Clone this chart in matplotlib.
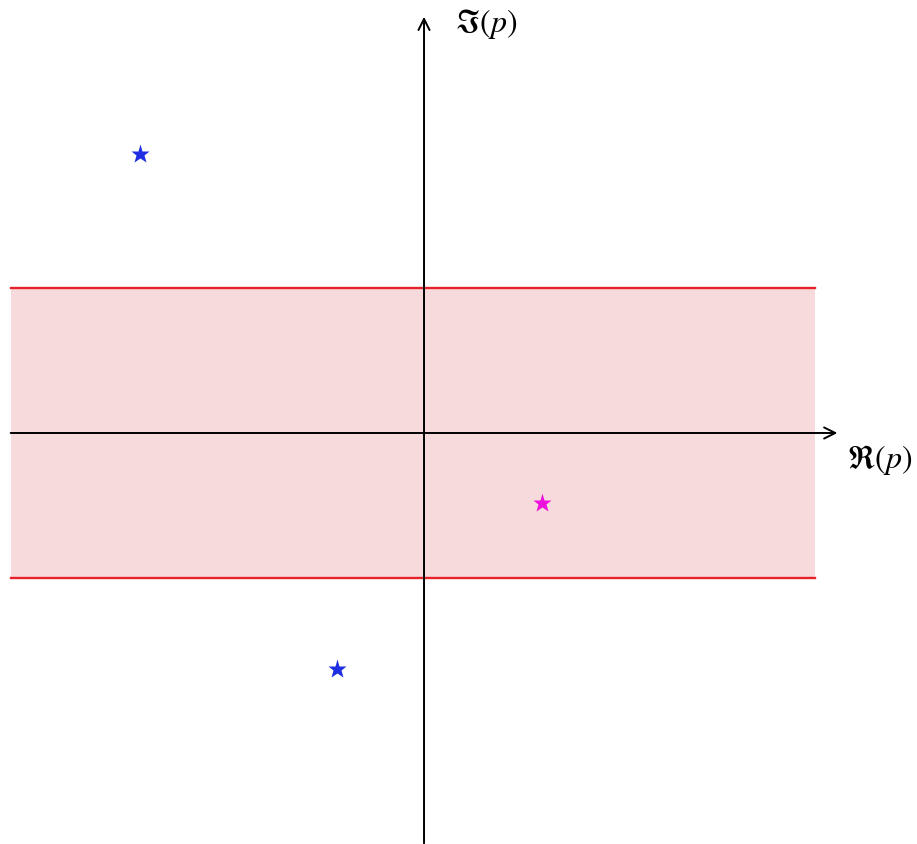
import matplotlib.pyplot as plt

plt.rcParams['mathtext.fontset'] = 'stix'

# strip bounds (imaginary part)
band_lo, band_hi = -1.0, 1.0
band_x = [-2.84, 2.69]

# poles: blue outside strip, magenta inside
blue_re = [-1.95, -0.60]
blue_im = [1.92, -1.62]
mag_re = [0.81]
mag_im = [-0.48]

fig = plt.figure(figsize=(9.17, 8.45), dpi=100)
ax = fig.add_axes([0, 0, 1, 1])
ax.set_xlim(-2.914, 3.388)
ax.set_ylim(-2.825, 2.983)
ax.axis('off')

# shaded strip with red edges
ax.fill_between(band_x, band_lo, band_hi, color='#f7dadb', lw=0, zorder=1)
ax.plot(band_x, [band_hi, band_hi], color='#e8222a', lw=1.7, zorder=2)
ax.plot(band_x, [band_lo, band_lo], color='#e8222a', lw=1.7, zorder=2)

# axes with arrows
ax.annotate('', xy=(2.86, 0), xytext=(-2.86, 0),
            arrowprops=dict(arrowstyle='->', lw=1.4, color='black', mutation_scale=20), zorder=3)
ax.annotate('', xy=(0, 2.88), xytext=(0, -2.84),
            arrowprops=dict(arrowstyle='->', lw=1.4, color='black', mutation_scale=20), zorder=3)

ax.text(2.91, -0.18, r'$\Re(p)$', fontsize=23, va='center', ha='left')
ax.text(0.21, 2.82, r'$\Im(p)$', fontsize=23, va='center', ha='left')

ax.plot(blue_re, blue_im, '*', color='#1f2ee0', ms=14, mec='none', zorder=4)
ax.plot(mag_re, mag_im, '*', color='#ee11dd', ms=14, mec='none', zorder=4)

fig.savefig('out.png', dpi=100)
